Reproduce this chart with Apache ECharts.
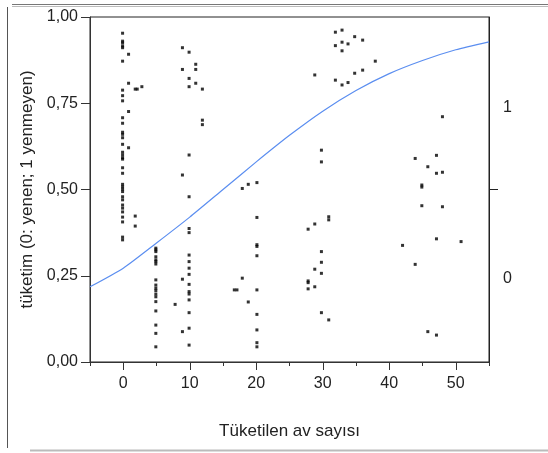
<!DOCTYPE html>
<html>
<head>
<meta charset="utf-8">
<script src="https://cdn.jsdelivr.net/npm/echarts@6/dist/echarts.min.js"></script>
<style>
  html, body { margin: 0; padding: 0; background: #fff; }
  #chart { width: 548px; height: 453px; }
</style>
</head>
<body>
<div id="chart"></div>
<script>
// jittered x position of each column of points
const columnX = [-0.1, 0.8, 1.8, 2.1, 2.8, 4.9, 7.8, 8.9, 9.9, 10.9, 11.9, 16.7, 17.1, 17.9, 18.8, 20.1,
  27.8, 28.8, 29.8, 30.9, 31.9, 32.9, 33.8, 34.8, 36.0, 37.9,
  42.0, 43.9, 44.9, 45.8, 47.1, 48.0, 50.8]
// y (jittered) values for each column
const columnY = [
  [0.953, 0.930, 0.925, 0.916, 0.911, 0.872, 0.788, 0.772, 0.757, 0.708, 0.692, 0.666, 0.660, 0.650, 0.631,
   0.608, 0.600, 0.592, 0.588, 0.563, 0.547, 0.515, 0.508, 0.501, 0.494, 0.479, 0.470, 0.455, 0.446, 0.435,
   0.420, 0.406, 0.362, 0.354],
  [0.892, 0.808, 0.726, 0.621],
  [0.791, 0.423, 0.394],
  [0.791],
  [0.798],
  [0.330, 0.325, 0.320, 0.305, 0.296, 0.291, 0.284, 0.238, 0.223, 0.214, 0.207, 0.197, 0.189, 0.175, 0.148,
   0.107, 0.083, 0.044],
  [0.167],
  [0.911, 0.848, 0.542, 0.240, 0.088],
  [0.898, 0.822, 0.798, 0.600, 0.479, 0.387, 0.375, 0.310, 0.291, 0.272, 0.254, 0.225, 0.204, 0.197, 0.180,
   0.143, 0.098, 0.049],
  [0.863, 0.848, 0.808],
  [0.791, 0.701, 0.688],
  [0.209],
  [0.209],
  [0.503, 0.243],
  [0.515, 0.174],
  [0.520, 0.419, 0.340, 0.335, 0.308, 0.209, 0.138, 0.093, 0.056, 0.044],
  [0.385, 0.235, 0.230, 0.212],
  [0.832, 0.400, 0.269, 0.218],
  [0.614, 0.580, 0.320, 0.289, 0.257, 0.143],
  [0.421, 0.412, 0.122],
  [0.956, 0.917, 0.817],
  [0.962, 0.927, 0.902, 0.803],
  [0.922, 0.810],
  [0.943, 0.837],
  [0.933, 0.846],
  [0.872],
  [0.338],
  [0.590, 0.283],
  [0.513, 0.507, 0.453],
  [0.566, 0.088],
  [0.599, 0.547, 0.357, 0.078],
  [0.711, 0.550, 0.450],
  [0.349]
]

// fitted logistic curve
const curveX = [-5, 0, 5, 10, 15, 20, 25, 30, 35, 40, 45, 50, 55]
const curveY = [0.218, 0.272, 0.345, 0.420, 0.500, 0.580, 0.657, 0.727, 0.787, 0.836, 0.874, 0.905, 0.928]

const xTicks = [0, 10, 20, 30, 40, 50]
const xMinorTicks = [-5, 5, 15, 25, 35, 45, 55]
const rightTicks = [0.5]
const rightLabelPos = [0.243, 0.736]
const rightLabels = ['0', '1']

const points = []
columnX.forEach((x, i) => {
  columnY[i].forEach(y => points.push([x, y]))
})

const chart = echarts.init(document.getElementById('chart'), null, { renderer: 'canvas' })
const font = 'Liberation Sans'
const lineColor = '#333'

chart.setOption({
  animation: false,
  textStyle: { fontFamily: font },
  grid: {
    left: 90, right: 59, top: 17, bottom: 91,
    show: true, borderColor: '#222', borderWidth: 1, backgroundColor: 'transparent'
  },
  xAxis: [
    {
      type: 'value', min: -5, max: 55,
      name: 'Tüketilen av sayısı', nameLocation: 'middle', nameGap: 61,
      nameTextStyle: { fontSize: 17, color: '#222', fontFamily: font },
      axisLine: { show: true, onZero: false, lineStyle: { color: lineColor } },
      axisTick: { show: true, customValues: xTicks, length: 8, lineStyle: { color: lineColor } },
      axisLabel: { customValues: xTicks, fontSize: 16, color: '#222', margin: 14, fontFamily: font },
      splitLine: { show: false }
    },
    {
      type: 'value', min: -5, max: 55, position: 'bottom',
      axisLine: { show: false, onZero: false },
      axisTick: { show: true, customValues: xMinorTicks, length: 4, lineStyle: { color: lineColor } },
      axisLabel: { show: false },
      splitLine: { show: false }
    }
  ],
  yAxis: [
    {
      type: 'value', min: 0, max: 1, interval: 0.25, position: 'left',
      name: 'tüketim (0: yenen; 1 yenmeyen)', nameLocation: 'middle', nameGap: 48,
      nameTextStyle: { fontSize: 17, color: '#222', fontFamily: font },
      axisLine: { show: true, onZero: false, lineStyle: { color: lineColor } },
      axisTick: { show: true, length: 9, lineStyle: { color: lineColor } },
      axisLabel: {
        fontSize: 16, color: '#222', margin: 12, fontFamily: font,
        formatter: v => v.toFixed(2).replace('.', ',')
      },
      splitLine: { show: false }
    },
    {
      type: 'value', min: 0, max: 1, position: 'right',
      axisLine: { show: true, onZero: false, lineStyle: { color: '#222' } },
      axisTick: { show: true, customValues: rightTicks, length: 9, lineStyle: { color: '#222' } },
      axisLabel: {
        customValues: rightLabelPos, fontSize: 16, color: '#222', margin: 14, fontFamily: font,
        formatter: v => rightLabels[v < 0.5 ? 0 : 1]
      },
      splitLine: { show: false }
    }
  ],
  series: [
    {
      type: 'line', data: curveX.map((x, i) => [x, curveY[i]]),
      smooth: 0.2, showSymbol: false, symbol: 'none',
      lineStyle: { color: '#5b8ef0', width: 1.2 },
      z: 2
    },
    {
      type: 'scatter', data: points,
      symbol: 'rect', symbolSize: 3,
      itemStyle: { color: '#000' },
      z: 3
    }
  ],
  graphic: [
    { type: 'line', shape: { x1: 12, y1: 4.5, x2: 548, y2: 4.5 }, style: { stroke: '#777', lineWidth: 1 } },
    { type: 'line', shape: { x1: 12, y1: 6.5, x2: 548, y2: 6.5 }, style: { stroke: '#bbb', lineWidth: 1 } },
    { type: 'line', shape: { x1: 7.5, y1: 7, x2: 7.5, y2: 448 }, style: { stroke: '#555', lineWidth: 1 } },
    { type: 'line', shape: { x1: 30, y1: 450.5, x2: 548, y2: 450.5 }, style: { stroke: '#bbb', lineWidth: 2 } }
  ]
})
</script>
</body>
</html>
